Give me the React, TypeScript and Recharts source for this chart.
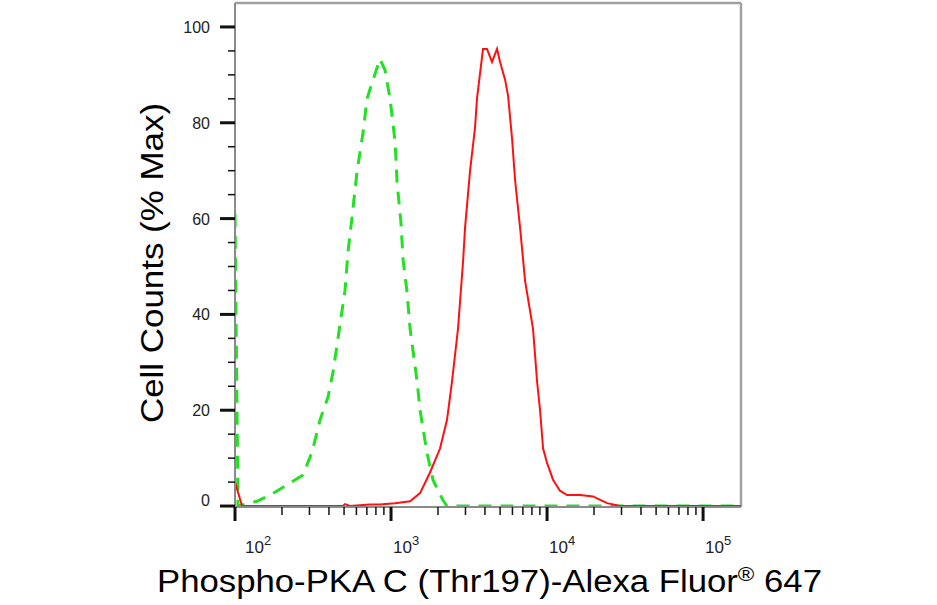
import React from 'react';
import { LineChart, Line, XAxis, YAxis, ReferenceLine, Label } from 'recharts';

// fluorescence values (log axis) and % max counts
const CONTROL_X = [100, 104.5, 138, 168, 225, 273, 312, 351, 395, 425, 507, 530, 570, 605, 662, 702, 733, 849, 915, 986, 1062, 1093, 1159, 1194, 1267, 1325, 1469, 1535, 1702, 1860, 2153, 2285, 175000];
const CONTROL_Y = [61, 0, 1, 2.3, 4.8, 6.5, 11.3, 18, 22.8, 28, 45, 53, 62, 69.7, 78, 85, 87, 93.3, 91, 85, 76, 67.6, 59, 51.5, 44.6, 37, 26, 20, 11, 5.4, 1.2, 0, 0];

const SAMPLE_X = [100, 111, 492, 507, 545, 733, 849, 1062, 1325, 1535, 1778, 2061, 2285, 2460, 2687, 2895, 2980, 3210, 3455, 3555, 3886, 4120, 4437, 4779, 4998, 5383, 5626, 5970, 6240, 6720, 7230, 8130, 8630, 9020, 9430, 10000, 10920, 12100, 13430, 16290, 19720, 21880, 24270, 29380, 175000];
const SAMPLE_Y = [5, 0, 0, 0.4, 0, 0.3, 0.3, 0.6, 1, 2.7, 7, 12, 18, 26, 37, 51, 58, 70, 79, 85, 95.4, 95.4, 92.7, 95.4, 92.7, 89, 85.6, 76.6, 68, 58, 47, 37, 26, 20, 12, 9, 5.5, 3.2, 2.3, 2.3, 2, 1.3, 0.6, 0, 0];

const X_MAJOR = [100, 1000, 10000, 100000];
const X_EXP = ['2', '3', '4', '5'];
const X_TICKS = [100, 200, 300, 400, 500, 600, 700, 800, 900, 1000, 2000, 3000, 4000, 5000, 6000, 7000, 8000, 9000, 10000, 20000, 30000, 40000, 50000, 60000, 70000, 80000, 90000, 100000];
const Y_MAJOR = [0, 20, 40, 60, 80, 100];
const Y_TICKS = [0, 5, 10, 15, 20, 25, 30, 35, 40, 45, 50, 55, 60, 65, 70, 75, 80, 85, 90, 95, 100];

const X_MIN = 100;
const X_MAX = 175000;
const Y_MIN = -0.2;
const Y_MAX = 105;

const controlData = CONTROL_X.map((x, i) => ({ x, v: CONTROL_Y[i] }));
const sampleData = SAMPLE_X.map((x, i) => ({ x, v: SAMPLE_Y[i] }));

const FONT = '"Liberation Sans", Arial, Helvetica, sans-serif';

const XTick = ({ x, y, payload }: any) => {
  const idx = X_MAJOR.indexOf(payload.value);
  const major = idx >= 0;
  return (
    <g>
      <line x1={x} x2={x} y1={y} y2={y + (major ? 14 : 8)} stroke="#111" strokeWidth={major ? 3 : 1.5} />
      {major && (
        <text x={x + (idx === 0 ? 10 : 2)} y={y + 46} fontSize={17} fill="#222" fontFamily={FONT}>
          10<tspan fontSize={13} dy={-8}>{X_EXP[idx]}</tspan>
        </text>
      )}
    </g>
  );
};

const YTick = ({ x, y, payload }: any) => {
  const major = Y_MAJOR.includes(payload.value);
  return (
    <g>
      <line x1={x} x2={x - (major ? 15 : 7)} y1={y} y2={y} stroke="#111" strokeWidth={major ? 3 : 1.5} />
      {major && (
        <text x={x - 25} y={y + (payload.value === 0 ? 0 : 6)} textAnchor="end" fontSize={16} fill="#222" fontFamily={FONT}>
          {payload.value}
        </text>
      )}
    </g>
  );
};

export default function App() {
  return (
    <div style={{ position: 'absolute', left: 0, top: 0, background: '#fff' }}>
      <LineChart width={937} height={605} margin={{ top: 3, right: 196, bottom: 0, left: 0 }}>
        <XAxis
          dataKey="x"
          type="number"
          scale="log"
          domain={[X_MIN, X_MAX]}
          allowDataOverflow
          ticks={X_TICKS}
          interval={0}
          tick={<XTick />}
          tickSize={0}
          tickMargin={0}
          tickLine={false}
          height={98}
          axisLine={{ stroke: '#8a8a8a', strokeWidth: 2 }}
        >
          <Label
            content={() => (
              <text x={157} y={592} fontSize={31} fill="#000" fontFamily={FONT} textLength={665} lengthAdjust="spacingAndGlyphs">
                Phospho-PKA C (Thr197)-Alexa Fluor<tspan fontSize={20} dy={-11}>®</tspan>
                <tspan dy={11}> 647</tspan>
              </text>
            )}
          />
        </XAxis>
        <YAxis
          type="number"
          domain={[Y_MIN, Y_MAX]}
          allowDataOverflow
          ticks={Y_TICKS}
          interval={0}
          tick={<YTick />}
          tickSize={0}
          tickMargin={0}
          tickLine={false}
          width={235}
          axisLine={{ stroke: '#8a8a8a', strokeWidth: 2 }}
        >
          <Label
            content={() => (
              <text
                x={163}
                y={263}
                transform="rotate(-90 163 263)"
                textAnchor="middle"
                fontSize={32}
                fill="#000"
                fontFamily={FONT}
                textLength={320}
                lengthAdjust="spacingAndGlyphs"
              >
                Cell Counts (% Max)
              </text>
            )}
          />
        </YAxis>
        <ReferenceLine y={Y_MAX} stroke="#a0a0a0" strokeWidth={2.5} />
        <ReferenceLine x={X_MAX} stroke="#a0a0a0" strokeWidth={2.5} />
        <Line
          data={controlData}
          dataKey="v"
          type="linear"
          stroke="#22e022"
          strokeWidth={3}
          strokeDasharray="13 9"
          dot={false}
          isAnimationActive={false}
        />
        <Line
          data={sampleData}
          dataKey="v"
          type="linear"
          stroke="#ff1010"
          strokeWidth={2}
          dot={false}
          isAnimationActive={false}
        />
      </LineChart>
    </div>
  );
}
